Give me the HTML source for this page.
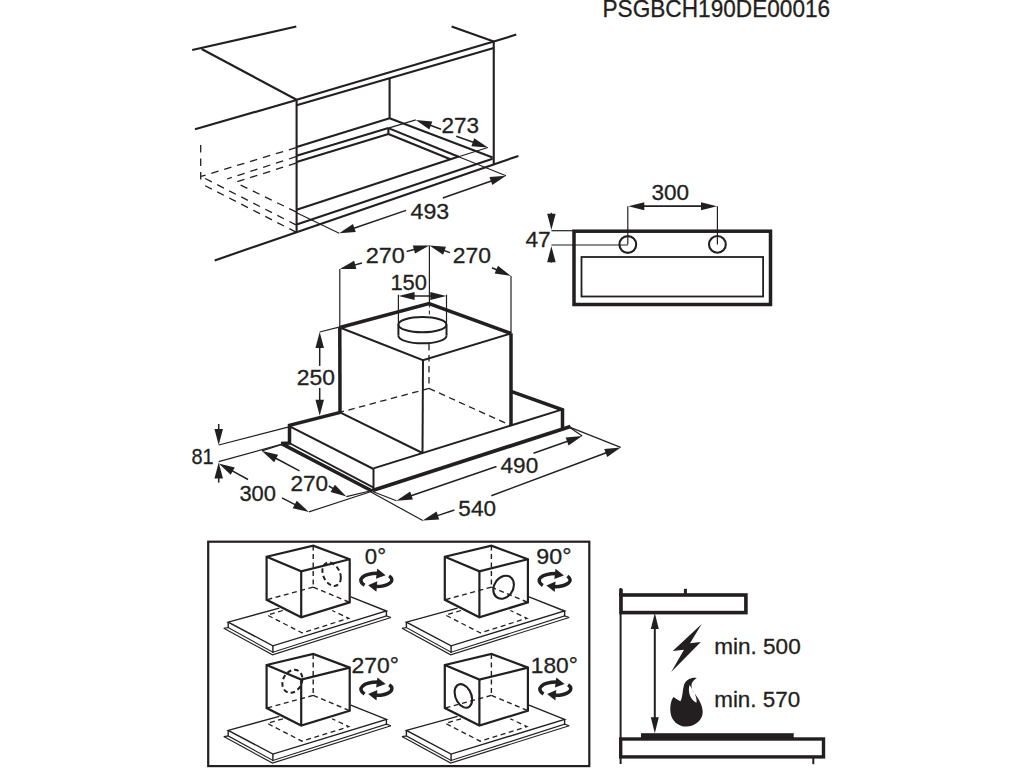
<!DOCTYPE html>
<html><head><meta charset="utf-8"><style>
html,body{margin:0;padding:0;background:#fff;width:1024px;height:768px;overflow:hidden}
svg{display:block}
text{font-family:"Liberation Sans",sans-serif;fill:#231f20;stroke:#231f20;stroke-width:0.3px}
</style></head><body>
<svg width="1024" height="768" viewBox="0 0 1024 768" stroke="#231f20" stroke-linecap="butt">
<line x1="192.2" y1="50" x2="296.3" y2="26.6" stroke-width="2.1"/>
<line x1="201.6" y1="49" x2="296.6" y2="99.7" stroke-width="2.1"/>
<line x1="195" y1="129.3" x2="296.6" y2="100" stroke-width="2.1"/>
<line x1="296.6" y1="99.7" x2="296.6" y2="232.2" stroke-width="2.1"/>
<line x1="296.6" y1="99.7" x2="493.75" y2="41.6" stroke-width="2.1"/>
<line x1="296.6" y1="105.3" x2="493.75" y2="48.1" stroke-width="2.1"/>
<line x1="451.6" y1="26.6" x2="493.75" y2="41.6" stroke-width="2.1"/>
<line x1="493.75" y1="41.6" x2="516.3" y2="34.6" stroke-width="2.1"/>
<line x1="493.75" y1="41.6" x2="493.75" y2="164" stroke-width="2.1"/>
<line x1="389.6" y1="79" x2="389.6" y2="118.2" stroke-width="2.1"/>
<line x1="296.6" y1="146.9" x2="389.6" y2="118.2" stroke-width="2.1"/>
<line x1="389.6" y1="118.2" x2="492.6" y2="157.4" stroke-width="2.1"/>
<line x1="296.6" y1="155.7" x2="388.4" y2="128.1" stroke-width="2.1"/>
<line x1="388.4" y1="128.1" x2="388.4" y2="134" stroke-width="2.1"/>
<line x1="296.6" y1="162.1" x2="388.4" y2="134" stroke-width="2.1"/>
<line x1="388.4" y1="128.1" x2="458.6" y2="156.8" stroke-width="2.1"/>
<line x1="388.4" y1="134" x2="450.4" y2="159.2" stroke-width="2.1"/>
<line x1="296.6" y1="209.8" x2="458.9" y2="156.4" stroke-width="2.1"/>
<line x1="296.6" y1="224.5" x2="492.6" y2="158.8" stroke-width="2.1"/>
<line x1="214.7" y1="260.4" x2="518.4" y2="155.9" stroke-width="2.1"/>
<line x1="200.7" y1="145" x2="200.7" y2="183.6" stroke-width="1.3" stroke-dasharray="7.5 6"/>
<line x1="296" y1="147.6" x2="201" y2="176.4" stroke-width="1.3" stroke-dasharray="7.5 6"/>
<line x1="296" y1="156.7" x2="227" y2="179" stroke-width="1.3" stroke-dasharray="7.5 6"/>
<line x1="296" y1="163.2" x2="235" y2="182.3" stroke-width="1.3" stroke-dasharray="7.5 6"/>
<line x1="296" y1="211.9" x2="235" y2="182.3" stroke-width="1.3" stroke-dasharray="7.5 6"/>
<line x1="296" y1="224.9" x2="201" y2="176.4" stroke-width="1.3" stroke-dasharray="7.5 6"/>
<line x1="296" y1="232.1" x2="201" y2="183.6" stroke-width="1.3" stroke-dasharray="7.5 6"/>
<line x1="388.4" y1="128.1" x2="415.8" y2="119.9" stroke-width="1.2"/>
<path d="M415.80,119.90 L432.28,121.51 L429.31,129.47 Z" fill="#231f20" stroke="none"/>
<line x1="441" y1="129.3" x2="428.92" y2="124.79" stroke-width="1.5"/>
<text transform="translate(441.58,133.00) scale(1.015,1)" font-size="22.19">273</text>
<path d="M487.90,147.50 L471.40,146.17 L474.23,138.16 Z" fill="#231f20" stroke="none"/>
<line x1="456.25" y1="136.3" x2="474.70" y2="142.83" stroke-width="1.5"/>
<line x1="487.9" y1="147.5" x2="458.6" y2="156.8" stroke-width="1.2"/>
<line x1="296.6" y1="212.7" x2="339.2" y2="233.2" stroke-width="1.2"/>
<path d="M339.20,233.20 L352.97,224.01 L355.72,232.05 Z" fill="#231f20" stroke="none"/>
<line x1="406" y1="210.4" x2="352.45" y2="228.68" stroke-width="1.5"/>
<text transform="translate(410.53,219.20) scale(1.045,1)" font-size="22.19">493</text>
<path d="M506.00,175.80 L492.31,185.11 L489.50,177.09 Z" fill="#231f20" stroke="none"/>
<line x1="442.8" y1="198" x2="492.79" y2="180.44" stroke-width="1.5"/>
<line x1="506" y1="175.8" x2="458.6" y2="156.8" stroke-width="1.2"/>
<text transform="translate(602.49,17.00) scale(0.962,1)" font-size="23.53">PSGBCH190DE00016</text>
<rect x="574" y="231.2" width="196.5" height="73.3" stroke-width="3.5" fill="none"/>
<rect x="581.5" y="257" width="181.6" height="39.5" stroke-width="1.8" fill="none"/>
<circle cx="627.8" cy="244.5" r="8.4" stroke-width="2.1" fill="none"/>
<circle cx="717.4" cy="244.4" r="8.4" stroke-width="2.1" fill="none"/>
<line x1="627.8" y1="206.2" x2="627.8" y2="244.5" stroke-width="1.2"/>
<line x1="717.4" y1="206.2" x2="717.4" y2="244.4" stroke-width="1.2"/>
<path d="M628.30,206.20 L644.30,202.20 L644.30,210.20 Z" fill="#231f20" stroke="none"/>
<path d="M717.00,206.20 L701.00,210.20 L701.00,202.20 Z" fill="#231f20" stroke="none"/>
<line x1="640" y1="206.2" x2="705" y2="206.2" stroke-width="1.8"/>
<text transform="translate(651.58,200.20) scale(1.015,1)" font-size="22.19">300</text>
<line x1="551.4" y1="230.7" x2="574" y2="230.7" stroke-width="1.2"/>
<line x1="551.4" y1="245" x2="627.8" y2="245" stroke-width="1.2"/>
<path d="M551.40,229.80 L547.15,213.80 L555.65,213.80 Z" fill="#231f20" stroke="none"/>
<line x1="551.4" y1="212.8" x2="551.40" y2="215.80" stroke-width="1.5"/>
<path d="M551.40,246.20 L555.65,262.20 L547.15,262.20 Z" fill="#231f20" stroke="none"/>
<line x1="551.4" y1="262.6" x2="551.40" y2="260.20" stroke-width="1.5"/>
<text transform="translate(525.39,247.00) scale(1.023,1)" font-size="22.19">47</text>
<path d="M339.8,327.5 L429,303.5 L511,333.4" stroke-width="3.5" fill="none"/>
<line x1="339.8" y1="327.5" x2="340" y2="412.3" stroke-width="3.5"/>
<line x1="511" y1="333.4" x2="511" y2="425.5" stroke-width="3.5"/>
<path d="M339.8,327.5 L423,360.3 L511,333.4" stroke-width="2.0" fill="none"/>
<line x1="423" y1="360.3" x2="422.5" y2="453" stroke-width="2.0"/>
<line x1="340" y1="412.3" x2="422.5" y2="453" stroke-width="2.0"/>
<line x1="429" y1="343.9" x2="429" y2="388.4" stroke-width="1.3" stroke-dasharray="6.5 4.5"/>
<line x1="429" y1="388.4" x2="340" y2="412.3" stroke-width="1.3" stroke-dasharray="6.5 4.5"/>
<line x1="429" y1="388.4" x2="511" y2="425.6" stroke-width="1.3" stroke-dasharray="6.5 4.5"/>
<line x1="429.4" y1="303.5" x2="429.4" y2="318" stroke-width="1.0" stroke-dasharray="4 3"/>
<ellipse cx="422.4" cy="324.7" rx="24" ry="7.6" stroke-width="2.0" fill="none"/>
<line x1="398.4" y1="324.7" x2="398.4" y2="335.7" stroke-width="2.0"/>
<line x1="446.5" y1="324.7" x2="446.5" y2="335.7" stroke-width="2.0"/>
<path d="M398.4,335.7 A24,7.6 0 0 0 446.5,335.7" stroke-width="2.0" fill="none"/>
<path d="M340.3,412.4 L289.5,425.4 L289.5,443 L281,443.6" stroke-width="3.5" fill="none"/>
<line x1="281.5" y1="443.6" x2="372.5" y2="491.3" stroke-width="3.5"/>
<line x1="290.2" y1="443.5" x2="373.1" y2="487.4" stroke-width="1.8"/>
<line x1="290.2" y1="426.7" x2="373.5" y2="469" stroke-width="2.0"/>
<line x1="373.5" y1="469" x2="373.5" y2="489.8" stroke-width="2.0"/>
<line x1="373.5" y1="468.4" x2="562.5" y2="409.4" stroke-width="2.0"/>
<line x1="372.5" y1="490.5" x2="570.5" y2="426.5" stroke-width="3.8"/>
<path d="M511,391.3 L562.5,409.8 L562.5,428" stroke-width="3.5" fill="none"/>
<line x1="339.8" y1="269" x2="339.8" y2="327.5" stroke-width="1.2"/>
<path d="M339.80,269.00 L354.14,260.72 L356.35,268.93 Z" fill="#231f20" stroke="none"/>
<line x1="362" y1="263" x2="353.32" y2="265.35" stroke-width="1.5"/>
<text transform="translate(365.70,262.60) scale(1.059,1)" font-size="22.19">270</text>
<path d="M429.40,245.50 L414.97,253.62 L412.85,245.39 Z" fill="#231f20" stroke="none"/>
<line x1="406.6" y1="251.4" x2="415.85" y2="249.01" stroke-width="1.5"/>
<path d="M429.40,245.50 L445.91,246.70 L443.14,254.73 Z" fill="#231f20" stroke="none"/>
<line x1="450" y1="252.6" x2="442.64" y2="250.06" stroke-width="1.5"/>
<text transform="translate(452.74,262.60) scale(1.031,1)" font-size="22.19">270</text>
<path d="M511.00,276.00 L494.63,273.56 L497.99,265.76 Z" fill="#231f20" stroke="none"/>
<line x1="492" y1="267.8" x2="498.15" y2="270.45" stroke-width="1.5"/>
<line x1="511" y1="276" x2="511" y2="333.4" stroke-width="1.2"/>
<line x1="429.4" y1="245.5" x2="429.4" y2="303.5" stroke-width="1.2"/>
<line x1="398.4" y1="294.7" x2="398.4" y2="324.7" stroke-width="1.2"/>
<line x1="446.5" y1="294.7" x2="446.5" y2="324.7" stroke-width="1.2"/>
<path d="M398.60,296.00 L414.60,292.00 L414.60,300.00 Z" fill="#231f20" stroke="none"/>
<line x1="429.4" y1="296" x2="412.60" y2="296.00" stroke-width="1.5"/>
<path d="M446.30,296.00 L430.30,300.00 L430.30,292.00 Z" fill="#231f20" stroke="none"/>
<line x1="429.4" y1="296" x2="432.30" y2="296.00" stroke-width="1.5"/>
<text transform="translate(390.45,290.20) scale(0.987,1)" font-size="22.19">150</text>
<line x1="319.7" y1="332" x2="340" y2="326.9" stroke-width="1.2"/>
<path d="M319.70,332.00 L323.95,348.00 L315.45,348.00 Z" fill="#231f20" stroke="none"/>
<line x1="319.7" y1="365.9" x2="319.70" y2="346.00" stroke-width="1.5"/>
<path d="M319.70,415.80 L315.45,399.80 L323.95,399.80 Z" fill="#231f20" stroke="none"/>
<line x1="319.7" y1="387.9" x2="319.70" y2="401.80" stroke-width="1.5"/>
<text transform="translate(296.74,385.40) scale(1.031,1)" font-size="22.19">250</text>
<line x1="218.7" y1="445" x2="289" y2="426.8" stroke-width="1.2"/>
<line x1="218.7" y1="461.6" x2="282" y2="444.2" stroke-width="1.2"/>
<path d="M218.70,445.00 L214.45,429.00 L222.95,429.00 Z" fill="#231f20" stroke="none"/>
<line x1="218.7" y1="424" x2="218.70" y2="431.00" stroke-width="1.5"/>
<path d="M218.70,462.60 L222.95,478.60 L214.45,478.60 Z" fill="#231f20" stroke="none"/>
<line x1="218.7" y1="482.6" x2="218.70" y2="476.60" stroke-width="1.5"/>
<text transform="translate(191.50,464.00) scale(0.900,1)" font-size="22.19">81</text>
<path d="M218.70,463.40 L234.77,467.38 L230.68,474.83 Z" fill="#231f20" stroke="none"/>
<line x1="248" y1="479.5" x2="230.97" y2="470.14" stroke-width="1.5"/>
<text transform="translate(239.39,500.80) scale(0.989,1)" font-size="22.19">300</text>
<path d="M308.90,511.90 L292.76,508.24 L296.70,500.71 Z" fill="#231f20" stroke="none"/>
<line x1="282" y1="497.8" x2="296.50" y2="505.40" stroke-width="1.5"/>
<line x1="308.9" y1="511.9" x2="369.8" y2="492" stroke-width="1.2"/>
<path d="M262.00,450.90 L278.12,454.68 L274.12,462.18 Z" fill="#231f20" stroke="none"/>
<line x1="299.5" y1="470.9" x2="274.35" y2="457.49" stroke-width="1.5"/>
<line x1="262" y1="450.9" x2="282" y2="444.5" stroke-width="1.2"/>
<text transform="translate(290.57,491.00) scale(1.015,1)" font-size="22.19">270</text>
<path d="M346.40,496.60 L330.50,491.99 L334.89,484.70 Z" fill="#231f20" stroke="none"/>
<line x1="328.8" y1="486" x2="334.41" y2="489.38" stroke-width="1.5"/>
<line x1="346.4" y1="496.6" x2="372" y2="490.5" stroke-width="1.2"/>
<line x1="569" y1="426.9" x2="582.2" y2="436.1" stroke-width="1.2"/>
<path d="M582.20,436.10 L568.53,445.44 L565.70,437.42 Z" fill="#231f20" stroke="none"/>
<line x1="533.5" y1="453.3" x2="569.00" y2="440.76" stroke-width="1.5"/>
<text transform="translate(500.55,472.80) scale(1.017,1)" font-size="22.19">490</text>
<path d="M396.40,500.70 L410.17,491.51 L412.91,499.55 Z" fill="#231f20" stroke="none"/>
<line x1="496.5" y1="466.5" x2="409.65" y2="496.17" stroke-width="1.5"/>
<line x1="396.4" y1="500.7" x2="372.6" y2="491.5" stroke-width="1.2"/>
<line x1="569" y1="426.9" x2="620.7" y2="447.4" stroke-width="1.2"/>
<path d="M620.70,447.40 L607.20,456.99 L604.23,449.02 Z" fill="#231f20" stroke="none"/>
<line x1="491.3" y1="495.8" x2="607.59" y2="452.30" stroke-width="1.5"/>
<text transform="translate(458.36,515.80) scale(1.016,1)" font-size="22.19">540</text>
<path d="M422.70,520.50 L436.55,511.43 L439.22,519.50 Z" fill="#231f20" stroke="none"/>
<line x1="454.4" y1="510" x2="435.99" y2="516.10" stroke-width="1.5"/>
<line x1="422.7" y1="520.5" x2="370" y2="491.5" stroke-width="1.2"/>
<rect x="208.2" y="541.7" width="381.1" height="224.4" stroke-width="2.2" fill="none"/>
<g transform="translate(0,0)">
<path d="M223.8,628.3 L272.5,654.8 L391,617.4" stroke-width="1.1" fill="none"/>
<path d="M223.8,628.3 L228.2,627.6 L272.9,652.2 L386.4,615.9 L391,617.4" stroke-width="1.1" fill="none"/>
<path d="M279.3,608.1 L228.2,622.1 L272.9,645.8 L386.4,611 L350.8,596.8" stroke-width="1.4" fill="none"/>
<line x1="228.2" y1="622.1" x2="228.2" y2="627.4" stroke-width="1.4"/>
<line x1="272.9" y1="645.8" x2="272.9" y2="653" stroke-width="1.4"/>
<line x1="386.4" y1="611" x2="386.4" y2="616" stroke-width="1.4"/>
<path d="M282.9,610.5 L267.4,615.1 L302,632.9 L348.8,618.3 L332.2,610.5" stroke-width="1.3" fill="none" stroke-dasharray="5 3.5"/>
<path d="M266.6,556.7 L313.2,545.6 L349.7,559.3 L349.7,602.4 L301.2,617.3 L266.6,599.8 Z" fill="#fff" stroke="none"/>
<line x1="313.2" y1="545.6" x2="313.2" y2="587.1" stroke-width="1.4" stroke-dasharray="5 3.5"/>
<line x1="313.2" y1="587.1" x2="266.6" y2="599.8" stroke-width="1.4" stroke-dasharray="5 3.5"/>
<line x1="313.2" y1="587.1" x2="349.7" y2="602.4" stroke-width="1.4" stroke-dasharray="5 3.5"/>
<path d="M266.6,556.7 L313.2,545.6 L349.7,559.3 L349.7,602.4 L301.2,617.3 L266.6,599.8 Z" stroke-width="2.2" fill="none"/>
<path d="M266.6,556.7 L301.2,571.3 L349.7,559.3" stroke-width="2.2" fill="none"/>
<line x1="301.2" y1="571.3" x2="301.2" y2="617.3" stroke-width="2.2"/>
<circle r="11.2" transform="matrix(0.824,0.309,0,1,331.6,574.2)" stroke-width="2.0" stroke-dasharray="4.6 3" fill="none" vector-effect="non-scaling-stroke"/>
</g>
<g transform="translate(178.2,0)">
<path d="M223.8,628.3 L272.5,654.8 L391,617.4" stroke-width="1.1" fill="none"/>
<path d="M223.8,628.3 L228.2,627.6 L272.9,652.2 L386.4,615.9 L391,617.4" stroke-width="1.1" fill="none"/>
<path d="M279.3,608.1 L228.2,622.1 L272.9,645.8 L386.4,611 L350.8,596.8" stroke-width="1.4" fill="none"/>
<line x1="228.2" y1="622.1" x2="228.2" y2="627.4" stroke-width="1.4"/>
<line x1="272.9" y1="645.8" x2="272.9" y2="653" stroke-width="1.4"/>
<line x1="386.4" y1="611" x2="386.4" y2="616" stroke-width="1.4"/>
<path d="M282.9,610.5 L267.4,615.1 L302,632.9 L348.8,618.3 L332.2,610.5" stroke-width="1.3" fill="none" stroke-dasharray="5 3.5"/>
<path d="M266.6,556.7 L313.2,545.6 L349.7,559.3 L349.7,602.4 L301.2,617.3 L266.6,599.8 Z" fill="#fff" stroke="none"/>
<line x1="313.2" y1="545.6" x2="313.2" y2="587.1" stroke-width="1.4" stroke-dasharray="5 3.5"/>
<line x1="313.2" y1="587.1" x2="266.6" y2="599.8" stroke-width="1.4" stroke-dasharray="5 3.5"/>
<line x1="313.2" y1="587.1" x2="349.7" y2="602.4" stroke-width="1.4" stroke-dasharray="5 3.5"/>
<path d="M266.6,556.7 L313.2,545.6 L349.7,559.3 L349.7,602.4 L301.2,617.3 L266.6,599.8 Z" stroke-width="2.2" fill="none"/>
<path d="M266.6,556.7 L301.2,571.3 L349.7,559.3" stroke-width="2.2" fill="none"/>
<line x1="301.2" y1="571.3" x2="301.2" y2="617.3" stroke-width="2.2"/>
<circle r="11.2" transform="matrix(0.922,-0.228,0,1,325.4,587.2)" stroke-width="2.1" fill="none" vector-effect="non-scaling-stroke"/>
</g>
<g transform="translate(0,108.3)">
<path d="M223.8,628.3 L272.5,654.8 L391,617.4" stroke-width="1.1" fill="none"/>
<path d="M223.8,628.3 L228.2,627.6 L272.9,652.2 L386.4,615.9 L391,617.4" stroke-width="1.1" fill="none"/>
<path d="M279.3,608.1 L228.2,622.1 L272.9,645.8 L386.4,611 L350.8,596.8" stroke-width="1.4" fill="none"/>
<line x1="228.2" y1="622.1" x2="228.2" y2="627.4" stroke-width="1.4"/>
<line x1="272.9" y1="645.8" x2="272.9" y2="653" stroke-width="1.4"/>
<line x1="386.4" y1="611" x2="386.4" y2="616" stroke-width="1.4"/>
<path d="M282.9,610.5 L267.4,615.1 L302,632.9 L348.8,618.3 L332.2,610.5" stroke-width="1.3" fill="none" stroke-dasharray="5 3.5"/>
<path d="M266.6,556.7 L313.2,545.6 L349.7,559.3 L349.7,602.4 L301.2,617.3 L266.6,599.8 Z" fill="#fff" stroke="none"/>
<line x1="313.2" y1="545.6" x2="313.2" y2="587.1" stroke-width="1.4" stroke-dasharray="5 3.5"/>
<line x1="313.2" y1="587.1" x2="266.6" y2="599.8" stroke-width="1.4" stroke-dasharray="5 3.5"/>
<line x1="313.2" y1="587.1" x2="349.7" y2="602.4" stroke-width="1.4" stroke-dasharray="5 3.5"/>
<path d="M266.6,556.7 L313.2,545.6 L349.7,559.3 L349.7,602.4 L301.2,617.3 L266.6,599.8 Z" stroke-width="2.2" fill="none"/>
<path d="M266.6,556.7 L301.2,571.3 L349.7,559.3" stroke-width="2.2" fill="none"/>
<line x1="301.2" y1="571.3" x2="301.2" y2="617.3" stroke-width="2.2"/>
<circle r="11.2" transform="matrix(0.895,-0.213,0,1,292.4,573)" stroke-width="2.0" stroke-dasharray="4.6 3" fill="none" vector-effect="non-scaling-stroke"/>
</g>
<g transform="translate(178.2,108.3)">
<path d="M223.8,628.3 L272.5,654.8 L391,617.4" stroke-width="1.1" fill="none"/>
<path d="M223.8,628.3 L228.2,627.6 L272.9,652.2 L386.4,615.9 L391,617.4" stroke-width="1.1" fill="none"/>
<path d="M279.3,608.1 L228.2,622.1 L272.9,645.8 L386.4,611 L350.8,596.8" stroke-width="1.4" fill="none"/>
<line x1="228.2" y1="622.1" x2="228.2" y2="627.4" stroke-width="1.4"/>
<line x1="272.9" y1="645.8" x2="272.9" y2="653" stroke-width="1.4"/>
<line x1="386.4" y1="611" x2="386.4" y2="616" stroke-width="1.4"/>
<path d="M282.9,610.5 L267.4,615.1 L302,632.9 L348.8,618.3 L332.2,610.5" stroke-width="1.3" fill="none" stroke-dasharray="5 3.5"/>
<path d="M266.6,556.7 L313.2,545.6 L349.7,559.3 L349.7,602.4 L301.2,617.3 L266.6,599.8 Z" fill="#fff" stroke="none"/>
<line x1="313.2" y1="545.6" x2="313.2" y2="587.1" stroke-width="1.4" stroke-dasharray="5 3.5"/>
<line x1="313.2" y1="587.1" x2="266.6" y2="599.8" stroke-width="1.4" stroke-dasharray="5 3.5"/>
<line x1="313.2" y1="587.1" x2="349.7" y2="602.4" stroke-width="1.4" stroke-dasharray="5 3.5"/>
<path d="M266.6,556.7 L313.2,545.6 L349.7,559.3 L349.7,602.4 L301.2,617.3 L266.6,599.8 Z" stroke-width="2.2" fill="none"/>
<path d="M266.6,556.7 L301.2,571.3 L349.7,559.3" stroke-width="2.2" fill="none"/>
<line x1="301.2" y1="571.3" x2="301.2" y2="617.3" stroke-width="2.2"/>
<circle r="11.2" transform="matrix(0.783,0.330,0,1,285.2,587.6)" stroke-width="2.1" fill="none" vector-effect="non-scaling-stroke"/>
</g>
<text transform="translate(364.78,564.00) scale(1.001,1)" font-size="22.19">0°</text>
<text transform="translate(536.34,563.80) scale(1.049,1)" font-size="22.19">90°</text>
<text transform="translate(351.56,672.60) scale(1.034,1)" font-size="22.19">270°</text>
<text transform="translate(530.75,672.80) scale(1.025,1)" font-size="22.19">180°</text>
<g transform="translate(375.7,580.2)">
<path d="M-11.2,5 C-19.5,0 -13,-6.9 2,-6.9" stroke-width="3.5" fill="none"/>
<path d="M9.9,-4.95 L1.55,-11.6 L0.3,-1.4 Z" fill="#231f20" stroke="none"/>
<path d="M13.4,-4.3 C20.5,0.5 13,6.3 0.5,6.3" stroke-width="3.5" fill="none"/>
<path d="M-7.6,5.05 L1.55,1.1 L0.7,11.5 Z" fill="#231f20" stroke="none"/>
</g>
<g transform="translate(554,580.4)">
<path d="M-11.2,5 C-19.5,0 -13,-6.9 2,-6.9" stroke-width="3.5" fill="none"/>
<path d="M9.9,-4.95 L1.55,-11.6 L0.3,-1.4 Z" fill="#231f20" stroke="none"/>
<path d="M13.4,-4.3 C20.5,0.5 13,6.3 0.5,6.3" stroke-width="3.5" fill="none"/>
<path d="M-7.6,5.05 L1.55,1.1 L0.7,11.5 Z" fill="#231f20" stroke="none"/>
</g>
<g transform="translate(375.8,689)">
<path d="M-11.2,5 C-19.5,0 -13,-6.9 2,-6.9" stroke-width="3.5" fill="none"/>
<path d="M9.9,-4.95 L1.55,-11.6 L0.3,-1.4 Z" fill="#231f20" stroke="none"/>
<path d="M13.4,-4.3 C20.5,0.5 13,6.3 0.5,6.3" stroke-width="3.5" fill="none"/>
<path d="M-7.6,5.05 L1.55,1.1 L0.7,11.5 Z" fill="#231f20" stroke="none"/>
</g>
<g transform="translate(554.7,689)">
<path d="M-11.2,5 C-19.5,0 -13,-6.9 2,-6.9" stroke-width="3.5" fill="none"/>
<path d="M9.9,-4.95 L1.55,-11.6 L0.3,-1.4 Z" fill="#231f20" stroke="none"/>
<path d="M13.4,-4.3 C20.5,0.5 13,6.3 0.5,6.3" stroke-width="3.5" fill="none"/>
<path d="M-7.6,5.05 L1.55,1.1 L0.7,11.5 Z" fill="#231f20" stroke="none"/>
</g>
<line x1="620.6" y1="588" x2="620.6" y2="764" stroke-width="2.0"/>
<line x1="621" y1="588.8" x2="621" y2="596" stroke-width="3.6"/>
<rect x="621" y="595" width="124.9" height="17.6" stroke-width="3.6" fill="none"/>
<line x1="685.4" y1="588.8" x2="685.4" y2="595" stroke-width="3"/>
<rect x="620.7" y="739" width="202.8" height="17.9" stroke-width="3.4" fill="none"/>
<rect x="641" y="733.2" width="152.7" height="6" fill="#231f20" stroke="none"/>
<line x1="813.3" y1="757" x2="813.3" y2="764.2" stroke-width="2"/>
<line x1="654.8" y1="625" x2="654.8" y2="721" stroke-width="2.0"/>
<path d="M654.80,613.00 L658.80,629.00 L650.80,629.00 Z" fill="#231f20" stroke="none"/>
<path d="M654.80,733.20 L650.80,717.20 L658.80,717.20 Z" fill="#231f20" stroke="none"/>
<path d="M701.7,624 L690,643.2 L700.8,642 L671.2,672 L684,649.8 L672.7,651 Z" fill="#231f20" stroke="none"/>
<path d="M696.7,678 C692,677 686,679.5 684,685 C682.5,690 683,696 680.5,701.2 C678.5,700.5 676,698.5 673.5,697 C670.5,701 670,707 670.5,712.4 C671.5,720.5 678,726.6 686.2,726.6 C695,726.6 702.7,720 702.7,712 C702.7,706 699.5,700 695,694 C691,688.5 689,683 696.7,678 Z M689.5,685 C687.5,692 690.5,700 696.5,702.8 C697.5,697 693,690.5 689.5,685 Z" fill="#231f20" stroke="none" fill-rule="evenodd"/>
<text transform="translate(714.20,654.20) scale(1.000,1)" font-size="22.56">min. 500</text>
<text transform="translate(714.21,707.20) scale(0.994,1)" font-size="22.56">min. 570</text>
</svg>
</body></html>
